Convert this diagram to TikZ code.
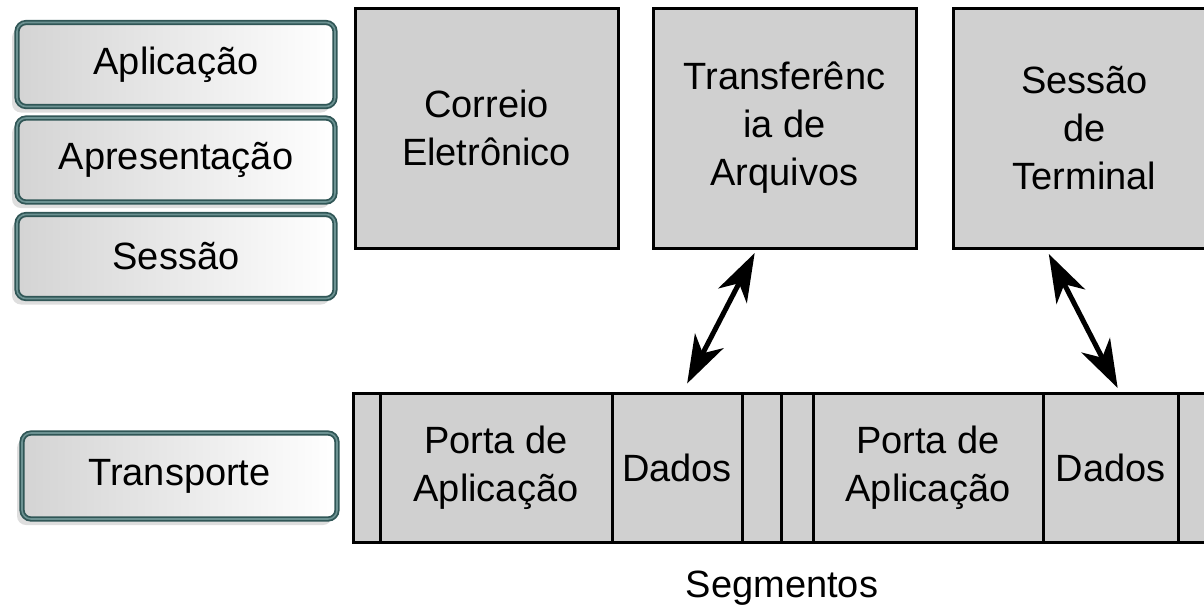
\documentclass[tikz,border=0pt]{standalone}
\usepackage{fontspec}
\setmainfont{Liberation Sans}
\usetikzlibrary{arrows.meta,shadows}

\definecolor{boxgray}{RGB}{208,208,208}
\definecolor{tealdark}{RGB}{48,86,86}
\definecolor{tealmid}{RGB}{108,146,146}
\definecolor{shadowgray}{RGB}{222,222,222}

\tikzset{
  txt/.style={font=\fontsize{38}{48}\selectfont, align=center, text=black},
  appbox/.style={txt, draw=black, fill=boxgray, line width=3pt,
    minimum width=263pt, minimum height=240pt, inner sep=0pt},
  cell/.style={txt, draw=black, fill=boxgray, line width=3pt,
    minimum height=149pt, inner sep=0pt},
  layer/.style={txt, rounded corners=9pt, draw=tealdark, line width=1.8pt,
    double=tealmid, double distance=1.6pt,
    left color=black!17, right color=white,
    minimum width=318pt, minimum height=84pt, inner sep=0pt,
    drop shadow={shadow xshift=-5pt, shadow yshift=-6pt, fill=shadowgray, opacity=1}},
  tip/.style={Stealth[length=48pt,width=32pt,inset=14pt]},
  link/.style={line width=5pt, black, {Stealth[length=48pt,width=32pt,inset=14pt]}-{Stealth[length=48pt,width=32pt,inset=14pt]}}
}

\begin{document}
\begin{tikzpicture}[x=1pt,y=-1pt]
  \useasboundingbox (0,0) rectangle (1204,611);
  \clip (0,0) rectangle (1204,611);

  % OSI layer labels on the left
  \node[layer] (apl)  at (176,64.5)  {Aplicação};
  \node[layer] (apr)  at (176,160)   {Apresentação};
  \node[layer] (ses)  at (176,256.5) {Sessão};
  \node[layer, minimum width=315pt, minimum height=86pt] (tra) at (179.5,476) {Transporte};

  % application boxes
  \node[appbox] (mail)  at (486.5,128)  {Correio\\Eletrônico};
  \node[appbox] (ftp)   at (784.5,128)  {Transferênc\\ia de\\Arquivos};
  \node[appbox] (term)  at (1084.5,128) {Sessão\\de\\Terminal};

  % transport segments
  \node[cell, minimum width=27pt]  (c0) at (366.5,467.5) {};
  \node[cell, minimum width=232pt] (c1) at (496,467.5)   {Porta de\\Aplicação};
  \node[cell, minimum width=130pt] (c2) at (677,467.5)   {Dados};
  \node[cell, minimum width=39pt]  (c3) at (761.5,467.5) {};
  \node[cell, minimum width=32pt]  (c4) at (797,467.5)   {};
  \node[cell, minimum width=230pt] (c5) at (928,467.5)   {Porta de\\Aplicação};
  \node[cell, minimum width=135pt] (c6) at (1110.5,467.5) {Dados};
  \node[cell, minimum width=82pt]  (c7) at (1219,467.5)  {};

  \node[txt] (seg) at (782,588) {Segmentos};

  % segment data <-> application
  \draw[link, shorten <=9pt, shorten >=4pt]
    ([xshift=6pt]c2.north) -- ([xshift=-28pt]ftp.south);
  \draw[link, shorten <=5pt, shorten >=4pt]
    ([xshift=-38pt]term.south) -- ([xshift=9pt]c6.north);
\end{tikzpicture}
\end{document}
